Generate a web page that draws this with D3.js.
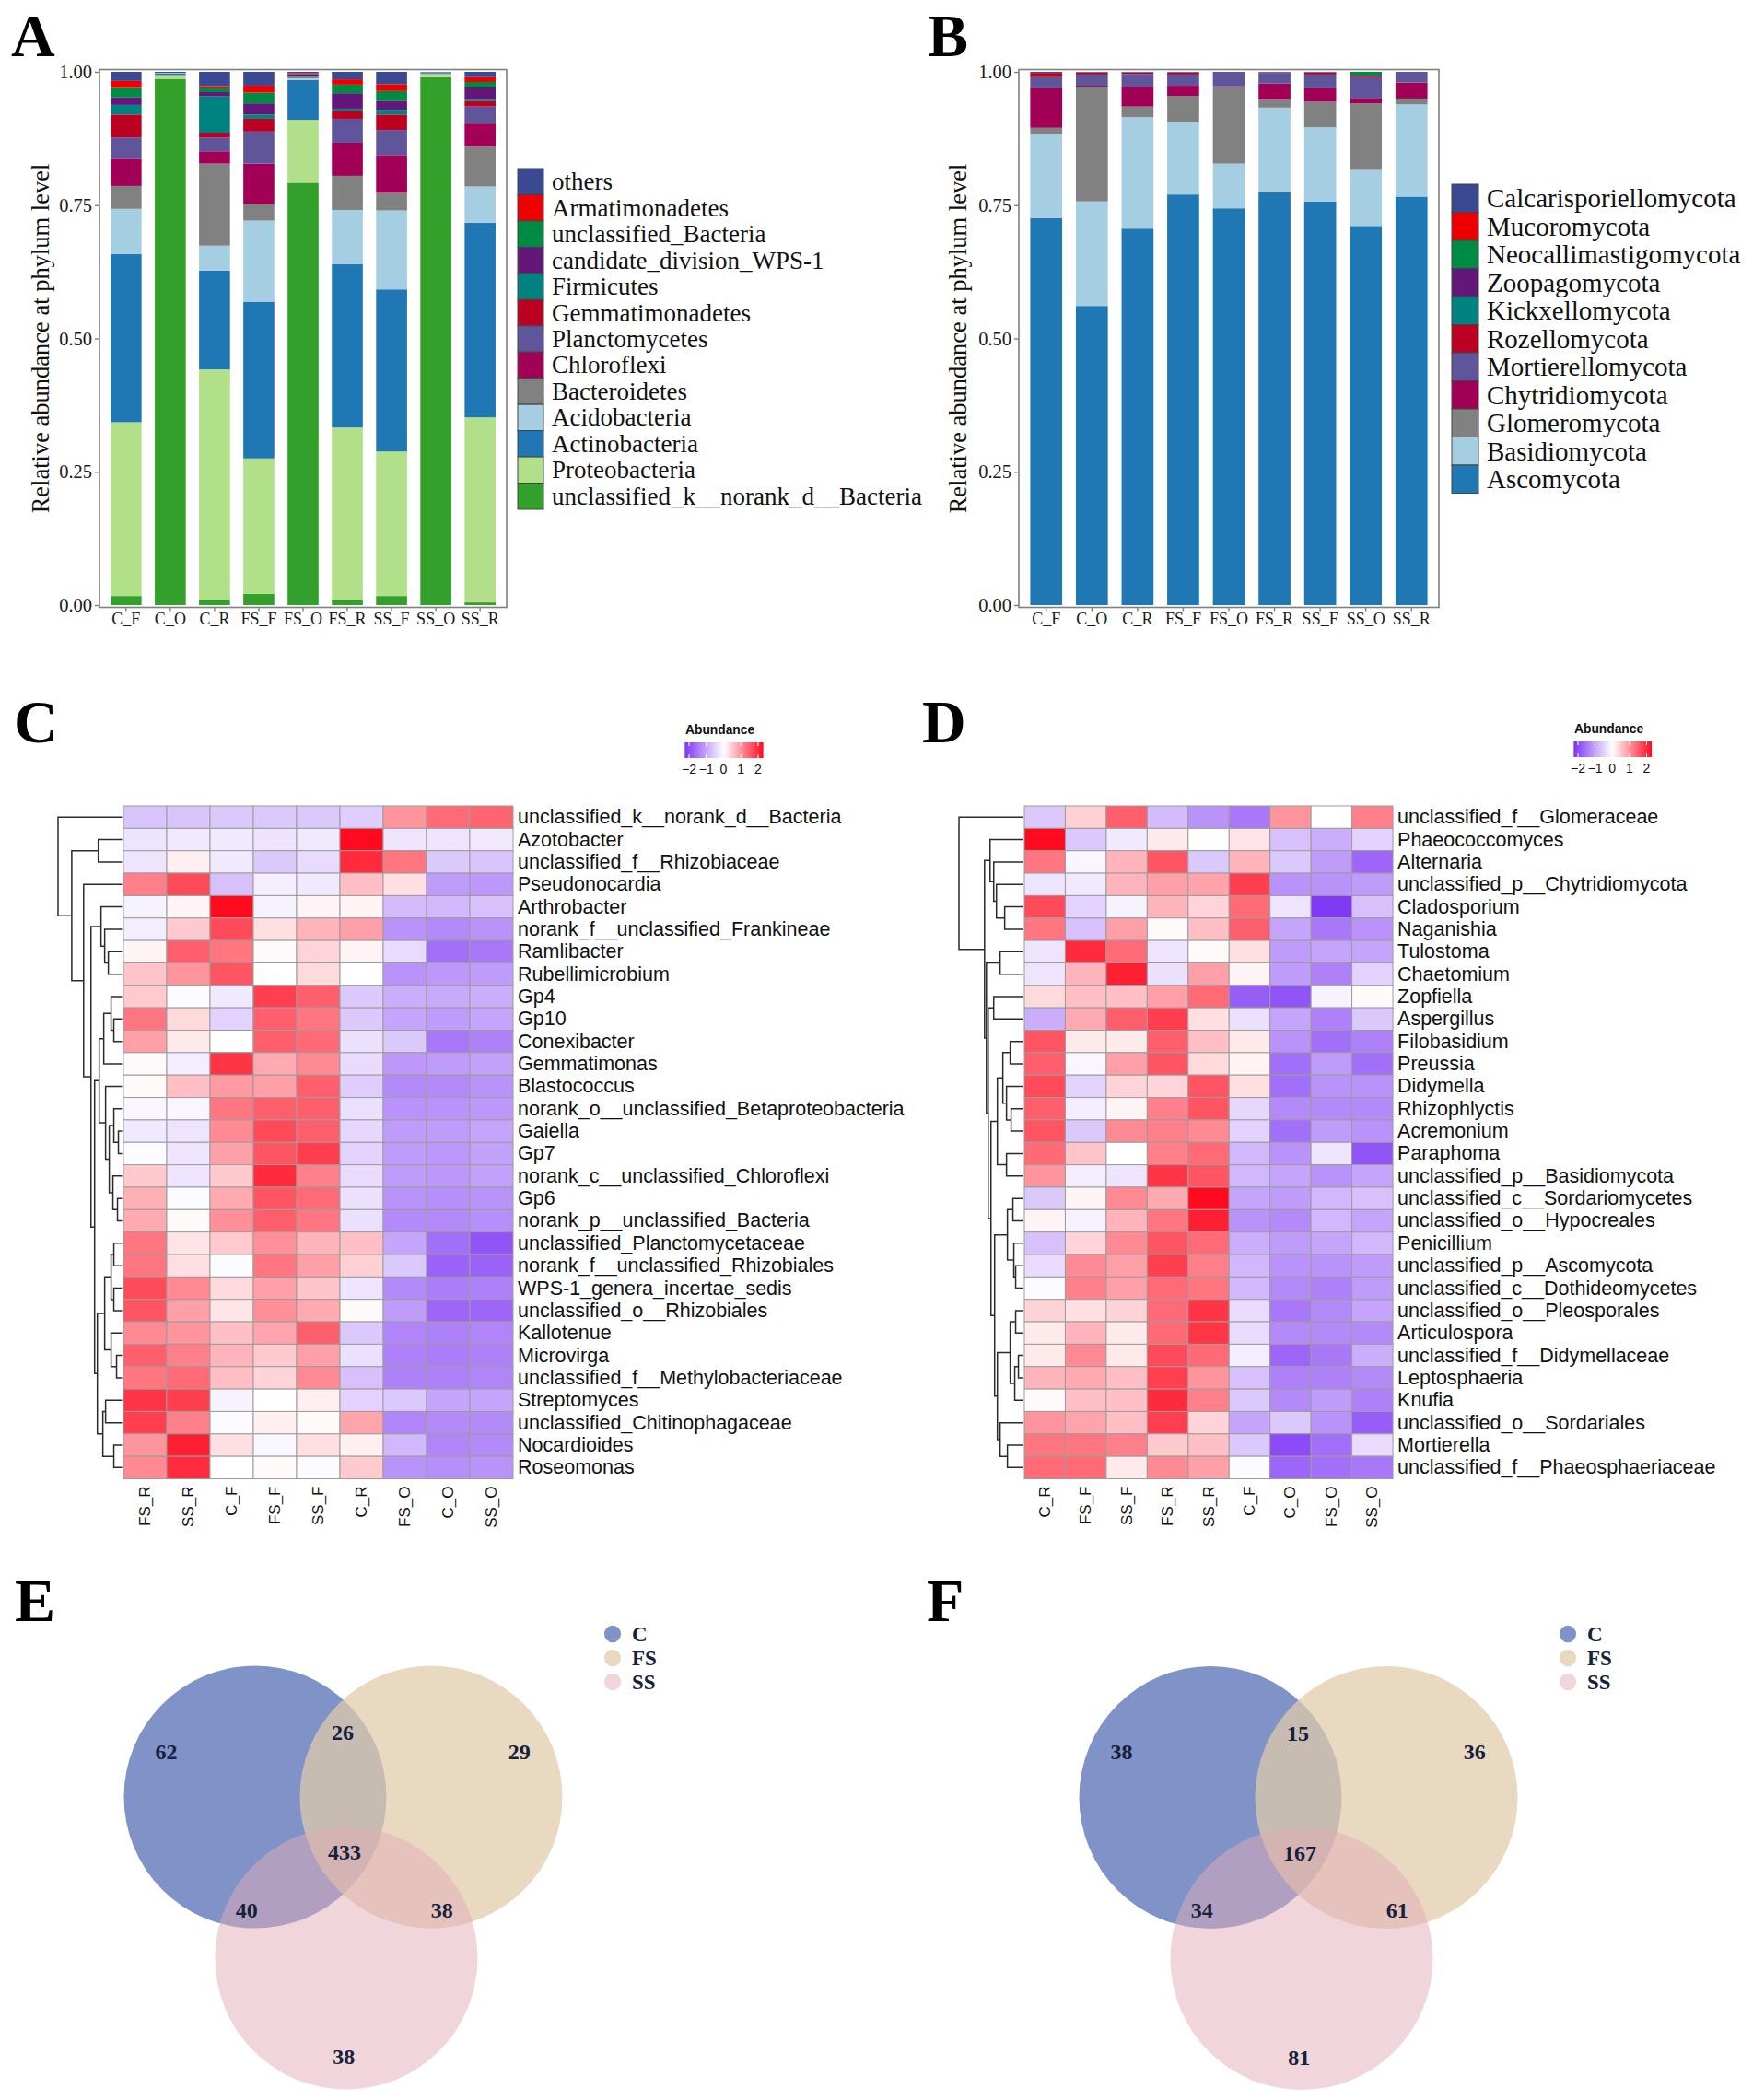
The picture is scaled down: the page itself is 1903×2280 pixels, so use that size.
<!DOCTYPE html>
<html><head><meta charset="utf-8">
<script src="https://cdn.jsdelivr.net/npm/d3@7/dist/d3.min.js"></script>
<style>html,body{margin:0;padding:0;background:#fff}svg{display:block}</style>
</head><body>
<svg id="fig" width="1903" height="2280"></svg>
<script>
// ================= DATA =================
const samplesAB = ["C_F","C_O","C_R","FS_F","FS_O","FS_R","SS_F","SS_O","SS_R"];
const yTicks = [0, 0.25, 0.5, 0.75, 1];

// Panel A: bacterial phyla, bottom -> top of stack
const bacPhyla = ["unclassified_k__norank_d__Bacteria","Proteobacteria","Actinobacteria","Acidobacteria","Bacteroidetes","Chloroflexi","Planctomycetes","Gemmatimonadetes","Firmicutes","candidate_division_WPS-1","unclassified_Bacteria","Armatimonadetes","others"];
const bacColors = ["#33A02C","#B2DF8A","#1F78B4","#A6CEE3","#808180","#A20056","#5F559B","#BB0021","#008280","#631879","#008B45","#EE0000","#3B4992"];
// rows = phyla (same order), columns = samplesAB
const bacAbund = [
  [0.017,0.987,0.011,0.021,0.792,0.011,0.017,0.990,0.005],
  [0.326,0.007,0.431,0.254,0.118,0.322,0.271,0.006,0.347],
  [0.315,0.003,0.185,0.294,0.075,0.306,0.304,0.002,0.365],
  [0.085,0.001,0.047,0.152,0.003,0.102,0.148,0.001,0.068],
  [0.043,0.000,0.154,0.031,0.005,0.064,0.033,0.000,0.075],
  [0.051,0.000,0.023,0.076,0.002,0.062,0.071,0.000,0.043],
  [0.040,0.000,0.026,0.060,0.002,0.045,0.047,0.000,0.032],
  [0.043,0.000,0.009,0.024,0.001,0.015,0.029,0.000,0.010],
  [0.018,0.000,0.068,0.008,0.000,0.004,0.009,0.000,0.003],
  [0.014,0.000,0.008,0.021,0.000,0.029,0.016,0.000,0.023],
  [0.018,0.000,0.007,0.020,0.000,0.016,0.019,0.000,0.010],
  [0.013,0.000,0.004,0.013,0.000,0.010,0.013,0.000,0.009],
  [0.017,0.002,0.027,0.026,0.002,0.014,0.023,0.001,0.010]
];

// Panel B: fungal phyla, bottom -> top
const funPhyla = ["Ascomycota","Basidiomycota","Glomeromycota","Chytridiomycota","Mortierellomycota","Rozellomycota","Kickxellomycota","Zoopagomycota","Neocallimastigomycota","Mucoromycota","Calcarisporiellomycota"];
const funColors = ["#1F78B4","#A6CEE3","#808180","#A20056","#5F559B","#BB0021","#008280","#631879","#008B45","#EE0000","#3B4992"];
const funAbund = [
  [0.726,0.561,0.706,0.770,0.744,0.775,0.757,0.711,0.766],
  [0.158,0.196,0.209,0.135,0.084,0.158,0.139,0.105,0.173],
  [0.011,0.215,0.020,0.050,0.143,0.015,0.048,0.125,0.011],
  [0.074,0.002,0.037,0.019,0.002,0.030,0.025,0.009,0.030],
  [0.021,0.021,0.024,0.021,0.027,0.020,0.026,0.040,0.020],
  [0.008,0.004,0.003,0.004,0.000,0.001,0.004,0.003,0.000],
  [0,0,0,0,0,0,0,0,0],
  [0,0,0,0,0,0,0,0,0],
  [0.000,0.000,0.000,0.000,0.000,0.000,0.000,0.007,0.000],
  [0,0,0,0,0,0,0,0,0],
  [0.002,0.001,0.001,0.001,0.000,0.001,0.001,0.000,0.000]
];

// Panel C: bacterial genera heatmap (row z-scores)
const bacHeatCols = ["FS_R","SS_R","C_F","FS_F","SS_F","C_R","FS_O","C_O","SS_O"];
const bacHeatRows = ["unclassified_k__norank_d__Bacteria","Azotobacter","unclassified_f__Rhizobiaceae","Pseudonocardia","Arthrobacter","norank_f__unclassified_Frankineae","Ramlibacter","Rubellimicrobium","Gp4","Gp10","Conexibacter","Gemmatimonas","Blastococcus","norank_o__unclassified_Betaproteobacteria","Gaiella","Gp7","norank_c__unclassified_Chloroflexi","Gp6","norank_p__unclassified_Bacteria","unclassified_Planctomycetaceae","norank_f__unclassified_Rhizobiales","WPS-1_genera_incertae_sedis","unclassified_o__Rhizobiales","Kallotenue","Microvirga","unclassified_f__Methylobacteriaceae","Streptomyces","unclassified_Chitinophagaceae","Nocardioides","Roseomonas"];
const bacHeatVals = [
  [-0.65,-0.65,-0.6,-0.6,-0.6,-0.55,1.0,1.4,1.45],
  [-0.3,-0.25,-0.25,-0.3,-0.25,2.5,-0.3,-0.3,-0.25],
  [-0.3,0.15,-0.25,-0.6,-0.4,2.0,1.3,-0.6,-0.65],
  [1.2,1.7,-0.7,-0.2,-0.25,0.6,0.3,-1.1,-1.15],
  [-0.15,0.1,2.4,-0.15,0.1,0.1,-0.75,-0.8,-0.7],
  [-0.2,0.5,1.7,0.3,0.7,0.9,-1.2,-1.3,-1.2],
  [0.1,1.5,1.3,0.05,0.4,0.1,-0.4,-1.6,-1.5],
  [0.55,1.0,1.6,0.0,0.35,0.0,-1.2,-1.15,-1.1],
  [0.5,-0.05,-0.25,1.8,1.5,-0.6,-0.9,-0.95,-0.9],
  [1.3,0.35,-0.5,1.5,1.3,-0.6,-1.0,-1.1,-1.0],
  [0.9,0.2,0.0,1.5,1.4,-0.35,-0.6,-1.5,-1.4],
  [0.05,-0.2,1.9,0.8,1.1,-0.4,-1.15,-1.1,-1.05],
  [0.05,0.6,0.95,0.9,1.5,-0.55,-1.3,-1.3,-1.2],
  [-0.1,-0.1,1.3,1.5,1.5,-0.35,-1.2,-1.2,-1.15],
  [-0.25,-0.3,1.1,1.7,1.5,-0.45,-1.1,-1.1,-1.0],
  [-0.05,-0.3,0.9,1.6,1.8,-0.5,-1.1,-1.15,-1.05],
  [0.5,-0.3,0.5,2.0,1.2,-0.4,-1.1,-1.15,-1.05],
  [0.75,-0.05,0.8,1.6,1.4,-0.35,-1.2,-1.25,-1.2],
  [0.8,0.05,1.05,1.5,1.3,-0.35,-1.3,-1.3,-1.25],
  [1.3,0.25,0.5,1.05,0.7,0.6,-1.0,-1.6,-1.9],
  [1.3,0.3,-0.05,1.3,0.9,0.45,-0.6,-1.75,-1.75],
  [1.7,1.1,0.35,0.9,0.55,-0.3,-1.3,-1.45,-1.4],
  [1.6,0.9,0.25,1.05,0.8,0.05,-1.1,-1.7,-1.7],
  [1.1,1.0,0.6,0.85,1.5,-0.6,-1.35,-1.4,-1.35],
  [1.5,1.2,0.7,0.5,0.9,-0.35,-1.4,-1.45,-1.4],
  [1.3,1.4,0.6,0.4,1.1,-0.7,-1.4,-1.4,-1.35],
  [1.9,1.8,-0.15,0.0,0.15,-0.5,-0.6,-1.0,-1.0],
  [1.8,1.2,-0.05,0.15,0.05,0.85,-1.35,-1.3,-1.3],
  [1.0,2.1,0.3,-0.1,0.3,0.15,-0.8,-1.35,-1.3],
  [1.1,2.0,0.0,0.05,-0.05,0.5,-1.2,-1.25,-1.2]
];
// dendrograms: [height, left, right]; numbers = leaf index
const bacColTree = [109,[68,[39,0,1],[60,2,[22,3,4]]],[84,5,[36,6,[2,7,8]]]];
const bacRowTree = [70,0,[55,[26,1,2],[42,3,[34,[23,4,[19,5,[15,6,7]]],[30,[25,[20,[12,8,[9,9,10]],11],[18,12,[14,[9,13,[4,14,15]],[10,16,[5,17,18]]]]],[27,[19,[12,[9,19,20],[9,21,22]],[12,23,[6,24,25]]],[21,[18,26,27],[9,28,29]]]]]]]];

// Panel D: fungal genera heatmap
const funHeatCols = ["C_R","FS_F","SS_F","FS_R","SS_R","C_F","C_O","FS_O","SS_O"];
const funHeatRows = ["unclassified_f__Glomeraceae","Phaeococcomyces","Alternaria","unclassified_p__Chytridiomycota","Cladosporium","Naganishia","Tulostoma","Chaetomium","Zopfiella","Aspergillus","Filobasidium","Preussia","Didymella","Rhizophlyctis","Acremonium","Paraphoma","unclassified_p__Basidiomycota","unclassified_c__Sordariomycetes","unclassified_o__Hypocreales","Penicillium","unclassified_p__Ascomycota","unclassified_c__Dothideomycetes","unclassified_o__Pleosporales","Articulospora","unclassified_f__Didymellaceae","Leptosphaeria","Knufia","unclassified_o__Sordariales","Mortierella","unclassified_f__Phaeosphaeriaceae"];
const funHeatVals = [
  [-0.6,0.45,1.5,-0.75,-1.2,-1.5,1.0,0.0,1.2],
  [2.5,-0.6,-0.25,0.2,0.0,0.25,-0.7,-0.9,-0.5],
  [1.3,-0.1,0.7,1.6,-0.6,0.7,-0.6,-1.1,-1.7],
  [-0.3,-0.25,0.7,0.9,0.85,1.8,-1.2,-1.2,-1.1],
  [1.7,-0.5,-0.15,0.7,0.4,1.4,-0.3,-2.2,-0.7],
  [1.3,-0.7,0.9,0.05,0.6,1.5,-1.0,-1.5,-1.2],
  [-0.3,2.0,1.4,-0.3,0.05,0.3,-1.1,-1.0,-1.0],
  [-0.3,0.7,2.1,-0.35,0.9,0.1,-1.1,-1.4,-0.5],
  [0.35,0.6,0.6,0.9,1.4,-1.8,-1.9,-0.15,0.05],
  [-0.9,0.8,1.5,1.8,0.3,-0.35,-1.0,-1.4,-0.6],
  [1.6,0.2,0.2,1.5,0.6,0.2,-1.2,-1.6,-1.4],
  [1.5,-0.1,0.9,1.6,0.35,0.1,-1.6,-1.1,-1.6],
  [1.7,-0.5,0.4,0.4,1.6,0.3,-1.6,-1.2,-1.2],
  [1.5,-0.2,0.1,1.2,1.6,-0.45,-1.3,-1.3,-1.3],
  [1.6,-0.6,1.1,1.2,1.1,-0.5,-1.6,-1.1,-1.2],
  [1.4,0.55,0.0,1.2,1.4,-0.8,-1.2,-0.3,-1.9],
  [1.0,-0.2,-0.3,1.9,1.6,-0.8,-1.0,-1.2,-1.0],
  [-0.6,0.1,1.1,0.8,2.3,-1.0,-1.1,-0.8,-0.7],
  [0.1,-0.15,0.7,1.3,2.1,-1.2,-1.3,-0.8,-1.0],
  [-0.7,0.4,1.1,1.6,1.4,-0.9,-1.1,-1.0,-0.8],
  [-0.4,1.1,0.9,1.8,1.2,-0.8,-1.2,-1.2,-1.1],
  [-0.05,1.2,0.9,1.4,1.3,-0.8,-1.3,-1.4,-1.1],
  [0.4,0.3,0.4,1.4,1.9,-0.4,-1.5,-1.3,-1.0],
  [0.2,0.7,0.2,1.4,1.9,-0.4,-1.3,-1.3,-1.3],
  [0.2,1.1,0.2,1.7,1.4,-0.2,-1.7,-1.5,-0.9],
  [0.7,0.8,0.6,1.8,1.0,-0.7,-1.4,-1.4,-1.3],
  [0.05,0.6,0.6,2.0,1.2,-0.6,-1.3,-1.1,-1.4],
  [1.0,0.85,0.6,1.8,0.4,-1.0,-0.6,-1.2,-1.8],
  [1.3,1.3,1.2,0.5,0.6,-0.6,-2.0,-1.6,-0.4],
  [1.4,1.4,0.2,1.1,0.9,-0.05,-1.7,-1.6,-1.5]
];
const funColTree = [109,[73,0,[66,[44,1,2],[49,3,4]]],[79,5,[32,6,[31,7,8]]]];
const funRowTree = [70,0,[42,[36,1,[32,2,[29,3,[20,4,5]]]],[40,[25,6,7],[38,[32,8,9],[35,[28,[22,[14,10,11],[18,12,[13,13,14]]],[18,15,16]],[31,[17,[11,17,18],[10,19,[8,20,21]]],[28,[14,[8,22,23],[9,[5,24,25],26]],[25,27,[17,28,29]]]]]]]]];
const legendTicks = [-2,-1,0,1,2];

// Panels E/F: Venn diagrams
const vennGroups = ["C","FS","SS"];
const vennRegions = ["C","C&FS","FS","C&FS&SS","C&SS","FS&SS","SS"];
const bacVennCounts = [62,26,29,433,40,38,38];
const funVennCounts = [38,15,36,167,34,61,81];

// ================= DRAWING =================
const svg = d3.select("#fig");
const serif = "'Liberation Serif','Times New Roman',serif";
const sans = "'Liberation Sans',Arial,sans-serif";
svg.append("rect").attr("width",1903).attr("height",2280).attr("fill","#fff");

// panel letters
const letters = [["A",12,61],["B",1007,61],["C",15,806],["D",1001,806],["E",16,1760],["F",1006,1760]];
svg.selectAll("text.plet").data(letters).join("text").attr("class","plet")
  .attr("x",d=>d[1]).attr("y",d=>d[2]).text(d=>d[0])
  .attr("font-family",serif).attr("font-weight","bold").attr("font-size",66).attr("fill","#000");

function drawBars(o){
  const g = svg.append("g");
  const x = d3.scaleBand().domain(o.samples).range([o.x0,o.x1]).paddingInner(0.3).paddingOuter(0.25);
  const y = d3.scaleLinear().domain([0,1]).range([o.yB,o.yT]);
  const rows = o.samples.map((s,j)=>{const r={s}; o.groups.forEach((k,i)=>r[k]=o.values[i][j]); return r;});
  const series = d3.stack().keys(o.groups)(rows);
  series.forEach((layer,i)=>{
    g.append("g").selectAll("rect").data(layer).join("rect")
      .attr("x",d=>x(d.data.s)).attr("width",x.bandwidth())
      .attr("y",d=>y(d[1])).attr("height",d=>Math.max(0,y(d[0])-y(d[1])))
      .attr("fill",o.colors[i]);
  });
  g.append("rect").attr("x",o.x0).attr("y",o.yT-2.5).attr("width",o.x1-o.x0).attr("height",o.yB-o.yT+5)
    .attr("fill","none").attr("stroke","#808080").attr("stroke-width",1.6);
  const ya = g.append("g").attr("transform",`translate(${o.x0},0)`)
    .call(d3.axisLeft(y).tickValues(yTicks).tickFormat(d3.format(".2f")).tickSize(5).tickPadding(3));
  ya.select(".domain").remove();
  ya.selectAll("line").attr("stroke","#808080").attr("stroke-width",1.4);
  ya.selectAll("text").attr("font-family",serif).attr("font-size",20.5).attr("fill","#1a1a1a");
  const xa = g.append("g").attr("transform",`translate(0,${o.yB+2.5})`)
    .call(d3.axisBottom(x).tickSize(4).tickPadding(2));
  xa.select(".domain").remove();
  xa.selectAll("line").attr("stroke","#808080").attr("stroke-width",1.4);
  xa.selectAll("text").attr("font-family",serif).attr("font-size",18).attr("fill","#1a1a1a");
  g.append("text").attr("transform",`translate(${o.titleX},${(o.yT+o.yB)/2}) rotate(-90)`)
    .attr("text-anchor","middle").attr("dominant-baseline","central")
    .attr("font-family",serif).attr("font-size",26.5).attr("fill","#111")
    .text("Relative abundance at phylum level");
  // legend (top = last group)
  const leg = o.groups.map((k,i)=>({k,c:o.colors[i]})).reverse();
  const lg = g.append("g");
  lg.selectAll("rect").data(leg).join("rect")
    .attr("x",o.lx).attr("y",(d,i)=>o.ly+i*o.lh).attr("width",o.lw).attr("height",o.lh)
    .attr("fill",d=>d.c).attr("stroke","#444").attr("stroke-width",1);
  lg.selectAll("text").data(leg).join("text")
    .attr("x",o.lx+o.lw+9).attr("y",(d,i)=>o.ly+(i+0.5)*o.lh).attr("dominant-baseline","central")
    .attr("font-family",serif).attr("font-size",o.lf).attr("fill","#111").text(d=>d.k);
}

drawBars({samples:samplesAB,groups:bacPhyla,colors:bacColors,values:bacAbund,
  x0:108,x1:550,yT:78,yB:657,titleX:44,lx:562,ly:183,lw:28,lh:28.46,lf:27});
drawBars({samples:samplesAB,groups:funPhyla,colors:funColors,values:funAbund,
  x0:1106,x1:1562,yT:78,yB:657,titleX:1040,lx:1576,ly:200,lw:29,lh:30.5,lf:29});

const heatColor = d3.scaleLinear().domain([-2.3,0,2.3]).range(["#7A30F5","#ffffff","#ff0a1e"]).clamp(true);

function drawTree(g, tree, leafPos, hs, orient){
  const paths=[];
  function rec(n){
    if(typeof n==="number") return {p:leafPos(n),h:0};
    const a=rec(n[1]), b=rec(n[2]), h=n[0];
    if(orient==="top") paths.push(`M${a.p},${hs(a.h)}V${hs(h)}H${b.p}V${hs(b.h)}`);
    else paths.push(`M${hs(a.h)},${a.p}H${hs(h)}V${b.p}H${hs(b.h)}`);
    return {p:(a.p+b.p)/2,h};
  }
  rec(tree);
  g.selectAll("path.dn").data(paths).join("path").attr("class","dn").attr("d",d=>d)
    .attr("fill","none").attr("stroke","#2b2b2b").attr("stroke-width",1.5);
}

function drawHeat(o){
  const g = svg.append("g");
  const x = d3.scaleBand().domain(o.cols).range([o.x0,o.x0+o.cw*o.cols.length]);
  const y = d3.scaleBand().domain(o.rows).range([o.y0,o.y0+o.rh*o.rows.length]);
  const cells=[];
  o.vals.forEach((r,i)=>r.forEach((v,j)=>cells.push({r:o.rows[i],c:o.cols[j],v})));
  g.selectAll("rect.cell").data(cells).join("rect").attr("class","cell")
    .attr("x",d=>x(d.c)).attr("y",d=>y(d.r)).attr("width",x.bandwidth()).attr("height",y.bandwidth())
    .attr("fill",d=>heatColor(d.v)).attr("stroke","#9c9c9c").attr("stroke-width",1);
  g.selectAll("text.rl").data(o.rows).join("text").attr("class","rl")
    .attr("x",o.x0+o.cw*o.cols.length+5).attr("y",d=>y(d)+y.bandwidth()/2).attr("dominant-baseline","central")
    .attr("font-family",sans).attr("font-size",21.5).attr("fill","#111").text(d=>d);
  const yb = o.y0+o.rh*o.rows.length;
  g.selectAll("text.cl").data(o.cols).join("text").attr("class","cl")
    .attr("transform",d=>`translate(${x(d)+x.bandwidth()/2},${yb+8}) rotate(-90)`)
    .attr("text-anchor","end").attr("dominant-baseline","central")
    .attr("font-family",sans).attr("font-size",17).attr("fill","#111").text(d=>d);
  // column dendrogram
  const hc = d3.scaleLinear().domain([0,o.colTree[0]]).range([o.y0-2,o.colTop]);
  drawTree(g,o.colTree,i=>x(o.cols[i])+x.bandwidth()/2,hc,"top");
  const hr = d3.scaleLinear().domain([0,o.rowTree[0]]).range([o.x0-1.5,o.rowLeft]);
  drawTree(g,o.rowTree,i=>y(o.rows[i])+y.bandwidth()/2,hr,"left");
  // legend
  const ls = d3.scaleLinear().domain([-2,2]).range(o.legX);
  const lid = "grad"+o.id;
  const grad = svg.append("defs").append("linearGradient").attr("id",lid);
  const lo=-2.25, hi=2.3;
  d3.range(0,1.0001,0.05).forEach(t=>{
    grad.append("stop").attr("offset",t).attr("stop-color",heatColor(lo+t*(hi-lo)));
  });
  g.append("text").attr("x",ls(-2)-4).attr("y",o.legY-9).attr("font-family",sans).attr("font-weight","bold")
    .attr("font-size",13.8).attr("fill","#111").text("Abundance");
  g.append("rect").attr("x",ls(lo)).attr("y",o.legY).attr("width",ls(hi)-ls(lo)).attr("height",17).attr("fill",`url(#${lid})`);
  g.selectAll("line.lt").data(legendTicks.flatMap(v=>[[v,0],[v,1]])).join("line").attr("class","lt")
    .attr("x1",d=>ls(d[0])).attr("x2",d=>ls(d[0]))
    .attr("y1",d=>d[1]?o.legY+17:o.legY).attr("y2",d=>d[1]?o.legY+13:o.legY+4)
    .attr("stroke","#fff").attr("stroke-width",1);
  g.selectAll("text.lv").data(legendTicks).join("text").attr("class","lv")
    .attr("x",d=>ls(d)).attr("y",o.legY+29).attr("text-anchor","middle").attr("dominant-baseline","central")
    .attr("font-family",sans).attr("font-size",14).attr("fill","#111").text(d=>d<0?"\u2212"+(-d):d);
}

drawHeat({id:"C",cols:bacHeatCols,rows:bacHeatRows,vals:bacHeatVals,colTree:bacColTree,rowTree:bacRowTree,
  x0:134,cw:47,y0:875,rh:24.35,colTop:764,rowLeft:63,legX:[748,823],legY:806});
drawHeat({id:"D",cols:funHeatCols,rows:funHeatRows,vals:funHeatVals,colTree:funColTree,rowTree:funRowTree,
  x0:1112,cw:44.45,y0:875,rh:24.35,colTop:764,rowLeft:1041,legX:[1713,1787.5],legY:805});

// Venn diagrams
const vennFill = ["rgb(128,147,200)","rgb(223,203,169)","rgb(225,171,181)"];
const vennAlpha = [1,0.73,0.5];
const vennDot = ["rgb(128,147,200)","rgb(232,217,192)","rgb(240,213,218)"];
function drawVenn(o){
  const g = svg.append("g").attr("transform",`translate(${o.cx},${o.cy})`);
  const r = 142.5;
  const centers = [[0,0],[191,0],[99,175]];
  g.selectAll("circle.v").data(vennGroups).join("circle").attr("class","v")
    .attr("cx",(d,i)=>centers[i][0]).attr("cy",(d,i)=>centers[i][1]).attr("r",r)
    .attr("fill",(d,i)=>vennFill[i]).attr("fill-opacity",(d,i)=>vennAlpha[i]);
  const anchor = {"C":[-0.677,-0.344],"C&FS":[0.667,-0.488],"FS":[2.012,-0.344],"C&FS&SS":[0.68,0.423],
    "C&SS":[-0.065,0.86],"FS&SS":[1.423,0.86],"SS":[0.675,1.98]};
  g.selectAll("text.vn").data(vennRegions).join("text").attr("class","vn")
    .attr("x",d=>anchor[d][0]*r).attr("y",d=>anchor[d][1]*r)
    .attr("text-anchor","middle").attr("dominant-baseline","central")
    .attr("font-family",serif).attr("font-weight","bold").attr("font-size",24).attr("fill","#16213d")
    .text((d,i)=>o.counts[i]);
  const lg = svg.append("g").attr("transform",`translate(${o.lx},${o.ly})`);
  lg.selectAll("ellipse").data(vennGroups).join("ellipse")
    .attr("cx",0).attr("cy",(d,i)=>i*26).attr("rx",9).attr("ry",9.3).attr("fill",(d,i)=>vennDot[i]);
  lg.selectAll("text").data(vennGroups).join("text")
    .attr("x",21).attr("y",(d,i)=>i*26).attr("dominant-baseline","central")
    .attr("font-family",serif).attr("font-weight","bold").attr("font-size",23).attr("fill","#16213d").text(d=>d);
}
drawVenn({cx:277,cy:1951,counts:bacVennCounts,lx:665,ly:1774});
drawVenn({cx:1314,cy:1951.5,counts:funVennCounts,lx:1702,ly:1774});
</script>
</body></html>
